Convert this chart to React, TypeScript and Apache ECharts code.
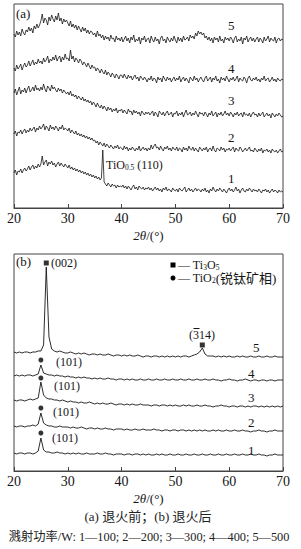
import React, { useEffect, useRef } from 'react';
import * as echarts from 'echarts';

// 2θ sampling for panel (a) (degrees, 0.25° step)
const twoThetaFine = [
  20, 20.25, 20.5, 20.75, 21, 21.25, 21.5, 21.75, 22, 22.25, 22.5, 22.75, 23, 23.25, 23.5, 23.75, 24, 24.25, 24.5, 24.75,
  25, 25.25, 25.5, 25.75, 26, 26.25, 26.5, 26.75, 27, 27.25, 27.5, 27.75, 28, 28.25, 28.5, 28.75, 29, 29.25, 29.5, 29.75,
  30, 30.25, 30.5, 30.75, 31, 31.25, 31.5, 31.75, 32, 32.25, 32.5, 32.75, 33, 33.25, 33.5, 33.75, 34, 34.25, 34.5, 34.75,
  35, 35.25, 35.5, 35.75, 36, 36.25, 36.5, 36.75, 37, 37.25, 37.5, 37.75, 38, 38.25, 38.5, 38.75, 39, 39.25, 39.5, 39.75,
  40, 40.25, 40.5, 40.75, 41, 41.25, 41.5, 41.75, 42, 42.25, 42.5, 42.75, 43, 43.25, 43.5, 43.75, 44, 44.25, 44.5, 44.75,
  45, 45.25, 45.5, 45.75, 46, 46.25, 46.5, 46.75, 47, 47.25, 47.5, 47.75, 48, 48.25, 48.5, 48.75, 49, 49.25, 49.5, 49.75,
  50, 50.25, 50.5, 50.75, 51, 51.25, 51.5, 51.75, 52, 52.25, 52.5, 52.75, 53, 53.25, 53.5, 53.75, 54, 54.25, 54.5, 54.75,
  55, 55.25, 55.5, 55.75, 56, 56.25, 56.5, 56.75, 57, 57.25, 57.5, 57.75, 58, 58.25, 58.5, 58.75, 59, 59.25, 59.5, 59.75,
  60, 60.25, 60.5, 60.75, 61, 61.25, 61.5, 61.75, 62, 62.25, 62.5, 62.75, 63, 63.25, 63.5, 63.75, 64, 64.25, 64.5, 64.75,
  65, 65.25, 65.5, 65.75, 66, 66.25, 66.5, 66.75, 67, 67.25, 67.5, 67.75, 68, 68.25, 68.5, 68.75, 69, 69.25, 69.5, 69.75,
  70,
];

// 2θ sampling for panel (b) (degrees, 0.5° step)
const twoTheta = [
  20, 20.5, 21, 21.5, 22, 22.5, 23, 23.5, 24, 24.5,
  25, 25.5, 26, 26.5, 27, 27.5, 28, 28.5, 29, 29.5,
  30, 30.5, 31, 31.5, 32, 32.5, 33, 33.5, 34, 34.5,
  35, 35.5, 36, 36.5, 37, 37.5, 38, 38.5, 39, 39.5,
  40, 40.5, 41, 41.5, 42, 42.5, 43, 43.5, 44, 44.5,
  45, 45.5, 46, 46.5, 47, 47.5, 48, 48.5, 49, 49.5,
  50, 50.5, 51, 51.5, 52, 52.5, 53, 53.5, 54, 54.5,
  55, 55.5, 56, 56.5, 57, 57.5, 58, 58.5, 59, 59.5,
  60, 60.5, 61, 61.5, 62, 62.5, 63, 63.5, 64, 64.5,
  65, 65.5, 66, 66.5, 67, 67.5, 68, 68.5, 69, 69.5,
  70,
];

// (a) before annealing — offset intensities (a.u.)
const a5 = [
  174, 171, 177, 173, 176, 172, 179, 175, 173, 178, 176, 181, 177, 180, 175, 182, 179, 184, 180, 183,
  187, 194, 185, 190, 188, 183, 191, 187, 193, 189, 186, 192, 188, 195, 187, 190, 184, 189, 186, 188,
  185, 182, 187, 181, 184, 180, 183, 178, 182, 179, 176, 181, 177, 180, 175, 178, 174, 177, 176, 173,
  175, 171, 177, 172, 174, 170, 173, 168, 172, 169, 171, 167, 173, 169, 170, 166, 172, 168, 170, 167,
  171, 166, 169, 172, 167, 170, 165, 171, 168, 173, 166, 169, 167, 171, 164, 170, 168, 172, 166, 169,
  170, 165, 172, 168, 166, 171, 167, 169, 164, 170, 172, 167, 169, 165, 171, 168, 166, 170, 167, 172,
  168, 165, 171, 167, 170, 166, 172, 168, 169, 171, 167, 173, 170, 172, 169, 175, 172, 177, 174, 176,
  173, 175, 170, 172, 168, 171, 167, 170, 165, 171, 168, 170, 166, 172, 167, 169, 165, 171, 168, 170,
  167, 171, 169, 165, 170, 172, 166, 169, 167, 171, 164, 170, 168, 172, 166, 169, 171, 167, 170, 166,
  169, 171, 166, 170, 168, 165, 171, 167, 169, 172, 166, 170, 168, 167, 171, 165, 169, 170, 167, 169,
  168,
];
const a4 = [
  140, 137, 143, 139, 141, 144, 138, 142, 145, 141, 143, 147, 142, 145, 148, 143, 146, 144, 149, 145,
  147, 144, 150, 146, 148, 152, 145, 149, 147, 151, 148, 153, 147, 150, 152, 146, 151, 148, 154, 149,
  150, 147, 158, 149, 152, 146, 150, 148, 145, 149, 147, 143, 146, 144, 141, 145, 142, 139, 143, 140,
  141, 137, 140, 138, 135, 139, 136, 134, 138, 133, 136, 134, 131, 135, 133, 130, 134, 132, 129, 133,
  133, 130, 134, 131, 129, 133, 130, 132, 128, 131, 133, 129, 131, 127, 132, 130, 128, 131, 129, 126,
  130, 128, 132, 127, 130, 129, 125, 131, 128, 130, 126, 132, 129, 127, 131, 128, 130, 126, 129, 131,
  127, 130, 128, 132, 126, 129, 131, 127, 130, 128, 125, 131, 129, 127, 132, 128, 130, 126, 129, 131,
  128, 126, 130, 132, 127, 129, 131, 126, 130, 128, 132, 127, 129, 125, 131, 128, 130, 127, 132, 129,
  126, 130, 128, 131, 127, 129, 132, 126, 130, 128, 127, 131, 129, 125, 130, 132, 128, 127, 130, 128,
  131, 127, 129, 126, 130, 128, 132, 127, 129, 130, 126, 128, 131, 127, 129, 126, 130, 128, 127, 129,
  128,
];
const a3 = [
  115, 119, 113, 117, 121, 114, 118, 116, 120, 115, 119, 122, 116, 118, 121, 117, 123, 118, 120, 117,
  121, 118, 124, 119, 116, 122, 120, 117, 123, 119, 121, 118, 116, 120, 117, 119, 115, 118, 116, 114,
  116, 113, 117, 112, 114, 111, 113, 109, 112, 110, 108, 111, 107, 109, 106, 108, 105, 107, 103, 106,
  104, 101, 105, 102, 100, 103, 99, 102, 100, 97, 101, 98, 100, 96, 99, 97, 100, 95, 98, 97,
  99, 95, 98, 96, 94, 99, 96, 97, 93, 98, 95, 97, 94, 96, 92, 97, 95, 93, 96, 94,
  96, 93, 95, 97, 92, 96, 94, 91, 97, 95, 93, 96, 92, 95, 97, 93, 94, 96, 91, 95,
  94, 97, 92, 95, 93, 96, 91, 95, 98, 93, 94, 96, 92, 95, 93, 97, 94, 91, 96, 94,
  95, 92, 96, 94, 91, 95, 93, 97, 92, 94, 96, 91, 95, 93, 96, 92, 94, 97, 93, 95,
  92, 96, 94, 91, 95, 93, 96, 92, 94, 95, 91, 96, 93, 94, 92, 95, 91, 94, 96, 93,
  94, 91, 95, 92, 94, 96, 91, 93, 95, 92, 94, 90, 95, 93, 91, 94, 92, 95, 93, 91,
  92,
];
const a2 = [
  74, 77, 72, 76, 75, 78, 74, 77, 79, 75, 78, 76, 80, 77, 79, 81, 76, 80, 78, 82,
  79, 81, 84, 78, 82, 80, 77, 83, 79, 81, 78, 82, 80, 77, 81, 79, 83, 78, 80, 79,
  77, 80, 75, 78, 76, 74, 77, 73, 75, 72, 74, 71, 73, 70, 72, 69, 71, 68, 70, 67,
  68, 65, 67, 63, 66, 64, 62, 65, 61, 64, 62, 60, 63, 61, 59, 62, 60, 63, 59, 61,
  60, 58, 62, 59, 61, 57, 60, 58, 61, 59, 57, 60, 58, 62, 57, 59, 61, 58, 60, 57,
  60, 58, 63, 59, 62, 64, 60, 61, 58, 62, 59, 57, 61, 59, 62, 58, 60, 57, 61, 59,
  58, 61, 57, 60, 59, 56, 61, 58, 60, 57, 62, 59, 58, 61, 57, 60, 58, 56, 61, 59,
  57, 60, 58, 61, 56, 59, 60, 57, 62, 58, 56, 60, 59, 57, 61, 58, 60, 56, 59, 58,
  60, 57, 59, 61, 56, 60, 58, 57, 61, 59, 56, 58, 60, 57, 59, 61, 57, 58, 56, 60,
  58, 56, 59, 57, 60, 55, 58, 57, 59, 56, 58, 55, 59, 57, 56, 58, 55, 57, 59, 56,
  57,
];
const a1 = [
  35, 38, 33, 37, 36, 39, 35, 38, 40, 37, 39, 42, 38, 41, 43, 39, 42, 40, 44, 41,
  44, 52, 43, 46, 48, 42, 46, 44, 47, 43, 45, 41, 44, 46, 42, 45, 43, 41, 44, 42,
  40, 43, 39, 41, 38, 40, 37, 39, 36, 38, 35, 37, 34, 36, 33, 35, 32, 34, 31, 33,
  30, 32, 29, 31, 28, 30, 58, 26, 24, 22, 25, 23, 21, 24, 22, 23, 20, 23, 21, 22,
  21, 23, 20, 22, 19, 22, 20, 18, 21, 23, 19, 21, 18, 22, 20, 19, 21, 18, 20, 19,
  21, 18, 20, 17, 19, 21, 18, 20, 17, 19, 16, 20, 18, 21, 17, 19, 18, 16, 20, 18,
  17, 19, 16, 20, 18, 17, 19, 21, 16, 18, 20, 17, 19, 16, 18, 20, 17, 19, 18, 16,
  19, 17, 20, 16, 18, 15, 19, 17, 21, 18, 16, 19, 17, 20, 18, 16, 19, 17, 15, 18,
  20, 17, 19, 16, 18, 21, 17, 19, 15, 18, 20, 17, 16, 19, 17, 20, 18, 16, 19, 17,
  18, 16, 19, 17, 15, 18, 17, 19, 16, 18, 15, 17, 19, 16, 18, 17, 15, 18, 16, 17,
  16,
];

// (b) after annealing — offset intensities (a.u.)
const b5 = [
  119, 118, 119, 118, 119, 119, 118, 119, 119, 120,
  120, 126, 204, 134, 122, 120, 119, 120, 119, 118,
  118, 119, 118, 117, 118, 117, 118, 117, 116, 117,
  117, 116, 117, 116, 116, 117, 116, 115, 116, 116,
  115, 116, 115, 116, 115, 115, 116, 115, 114, 115,
  115, 114, 115, 115, 114, 115, 114, 115, 114, 115,
  114, 115, 114, 115, 115, 114, 115, 116, 117, 119,
  123, 117, 115, 115, 115, 114, 115, 114, 115, 114,
  115, 114, 114, 115, 114, 115, 114, 114, 115, 114,
  114, 115, 114, 114, 115, 114, 114, 115, 114, 114,
  114,
];
const b4 = [
  95, 96, 95, 96, 95, 96, 96, 95, 96, 97,
  106, 98, 97, 96, 96, 95, 96, 95, 95, 94,
  95, 94, 94, 93, 94, 93, 94, 93, 93, 92,
  93, 92, 93, 92, 92, 93, 92, 92, 91, 92,
  92, 91, 92, 91, 92, 91, 91, 92, 91, 91,
  92, 91, 91, 92, 91, 91, 92, 91, 91, 92,
  91, 91, 92, 91, 91, 92, 91, 91, 92, 91,
  91, 92, 91, 91, 92, 91, 91, 90, 91, 91,
  92, 91, 91, 90, 91, 91, 92, 91, 90, 91,
  91, 90, 91, 91, 90, 91, 91, 90, 91, 91,
  91,
];
const b3 = [
  71, 70, 71, 71, 70, 71, 72, 71, 72, 73,
  89, 76, 73, 72, 72, 71, 71, 70, 71, 70,
  69, 70, 69, 69, 68, 69, 68, 68, 69, 68,
  67, 68, 67, 68, 67, 67, 68, 67, 66, 67,
  67, 66, 67, 66, 67, 66, 66, 67, 66, 66,
  66, 65, 66, 66, 65, 66, 66, 65, 66, 65,
  66, 65, 65, 66, 65, 66, 65, 65, 66, 65,
  65, 66, 65, 65, 64, 65, 65, 66, 65, 65,
  64, 65, 65, 64, 65, 65, 64, 65, 64, 65,
  65, 64, 65, 64, 65, 64, 65, 64, 65, 64,
  65,
];
const b2 = [
  45, 44, 45, 45, 44, 45, 45, 46, 45, 47,
  58, 48, 46, 45, 45, 44, 44, 45, 44, 44,
  44, 43, 44, 43, 43, 44, 43, 42, 43, 43,
  42, 43, 42, 42, 43, 42, 42, 41, 42, 42,
  42, 41, 42, 41, 41, 42, 41, 41, 42, 41,
  41, 41, 42, 41, 41, 40, 41, 41, 40, 41,
  41, 40, 41, 41, 40, 41, 40, 41, 40, 41,
  40, 41, 40, 40, 41, 40, 41, 40, 40, 41,
  40, 40, 41, 40, 40, 41, 40, 40, 39, 40,
  40, 41, 40, 40, 39, 40, 40, 41, 40, 40,
  40,
];
const b1 = [
  18, 17, 18, 18, 17, 18, 18, 17, 18, 20,
  33, 21, 19, 19, 18, 18, 19, 18, 18, 17,
  18, 17, 18, 17, 18, 17, 17, 18, 17, 17,
  17, 18, 17, 17, 18, 17, 17, 16, 17, 17,
  17, 16, 17, 17, 16, 17, 17, 16, 17, 16,
  17, 16, 16, 17, 16, 17, 16, 16, 17, 16,
  16, 17, 16, 16, 17, 16, 16, 17, 16, 16,
  17, 16, 16, 17, 16, 16, 17, 16, 16, 17,
  16, 16, 17, 16, 16, 17, 16, 16, 17, 16,
  16, 17, 16, 16, 15, 16, 16, 17, 16, 16,
  16,
];

// peak markers in panel (b)
const ti3o5Peaks = [[26.0, 208], [55.0, 126]];
const anatasePeaks = [[25.0, 111], [25.0, 93], [25.0, 63], [25.0, 38]];

const SERIF = "'Liberation Serif', 'Times New Roman', 'Noto Sans CJK SC', serif";
const INK = '#151515';

const pair = (xs: number[], ys: number[]) => xs.map((x, i) => [x, ys[i]]);

const txt = (text: string, x: number, y: number, size = 12, extra: any = {}) => ({
  type: 'text',
  x,
  y,
  silent: true,
  style: {
    text,
    fontSize: size,
    fontFamily: SERIF,
    fill: INK,
    align: 'left',
    verticalAlign: 'middle',
    ...extra,
  },
});

// rich text with subscripts: main tokens centred, sub tokens pushed to the bottom of a 12px line box
const subRich = () => ({
  m: { fontSize: 12, fontFamily: SERIF, fill: INK, lineHeight: 12, verticalAlign: 'middle' },
  c: { fontSize: 13, fontFamily: SERIF, fill: INK, lineHeight: 12, verticalAlign: 'middle' },
  s: { fontSize: 7.5, fontFamily: SERIF, fill: INK, lineHeight: 5, verticalAlign: 'bottom' },
});

export default function App() {
  const ref = useRef<HTMLDivElement>(null);
  useEffect(() => {
    if (!ref.current) return;
    const chart = echarts.init(ref.current, null, { renderer: 'svg' });
    const xAxisBase = (gridIndex: number) => ({
      type: 'value',
      gridIndex,
      min: 20,
      max: 70,
      interval: 10,
      axisLine: { show: true, lineStyle: { color: '#444', width: 1 } },
      axisTick: { show: true, inside: true, length: 4, lineStyle: { color: '#444' } },
      axisLabel: { color: INK, fontSize: 14, fontFamily: SERIF, margin: 3 },
      splitLine: { show: false },
      name: '{i|2θ}{n|/(°)}',
      nameLocation: 'middle',
      nameGap: 21,
      nameTextStyle: {
        rich: {
          i: { fontStyle: 'italic', fontSize: 13, fontFamily: SERIF, color: INK },
          n: { fontSize: 13, fontFamily: SERIF, color: INK },
        },
      },
    });
    const lineSeries = (xs: number[], data: number[], idx: number, width: number) => ({
      type: 'line',
      xAxisIndex: idx,
      yAxisIndex: idx,
      data: pair(xs, data),
      showSymbol: false,
      symbol: 'none',
      lineStyle: { color: INK, width },
      silent: true,
    });
    const option: any = {
      animation: false,
      grid: [
        { left: 14, right: 18, top: 4, height: 204, show: true, borderColor: '#444', borderWidth: 1 },
        { left: 14, right: 18, top: 254, height: 217, show: true, borderColor: '#444', borderWidth: 1 },
      ],
      xAxis: [xAxisBase(0), xAxisBase(1)],
      yAxis: [
        { type: 'value', gridIndex: 0, min: 0, max: 204, show: false },
        { type: 'value', gridIndex: 1, min: 0, max: 217, show: false },
      ],
      series: [
        lineSeries(twoThetaFine, a1, 0, 0.8),
        lineSeries(twoThetaFine, a2, 0, 0.8),
        lineSeries(twoThetaFine, a3, 0, 0.8),
        lineSeries(twoThetaFine, a4, 0, 0.8),
        lineSeries(twoThetaFine, a5, 0, 0.8),
        lineSeries(twoTheta, b1, 1, 0.9),
        lineSeries(twoTheta, b2, 1, 0.9),
        lineSeries(twoTheta, b3, 1, 0.9),
        lineSeries(twoTheta, b4, 1, 0.9),
        lineSeries(twoTheta, b5, 1, 0.9),
        {
          type: 'scatter',
          xAxisIndex: 1,
          yAxisIndex: 1,
          data: ti3o5Peaks,
          symbol: 'rect',
          symbolSize: 5,
          itemStyle: { color: '#000' },
          silent: true,
        },
        {
          type: 'scatter',
          xAxisIndex: 1,
          yAxisIndex: 1,
          data: anatasePeaks,
          symbol: 'circle',
          symbolSize: 5,
          itemStyle: { color: '#000' },
          silent: true,
        },
      ],
      graphic: [
        // panel (a)
        txt('(a)', 16, 13, 13),
        txt('5', 228, 25, 13),
        txt('4', 228, 68, 13),
        txt('3', 228, 100, 13),
        txt('2', 228, 137, 13),
        txt('1', 228, 178, 13),
        txt('{m|TiO}{s|0.5}{m| (110)}', 106, 165, 12, { rich: subRich() }),
        // panel (b)
        txt('(b)', 16, 261, 13),
        txt('(002)', 51, 263, 12),
        txt('(314)', 189, 335, 12),
        { type: 'line', silent: true, shape: { x1: 193.5, y1: 328.5, x2: 199.5, y2: 328.5 }, style: { stroke: INK, lineWidth: 1 } },
        txt('5', 253, 347, 13),
        txt('4', 248, 373, 13),
        txt('3', 248, 397, 13),
        txt('2', 248, 422, 13),
        txt('1', 248, 450, 13),
        txt('(101)', 56, 362, 12),
        txt('(101)', 54, 386, 12),
        txt('(101)', 53, 412, 12),
        txt('(101)', 52, 438, 12),
        // legend
        { type: 'rect', silent: true, shape: { x: 170.5, y: 262.5, width: 5, height: 5 }, style: { fill: '#000' } },
        txt('{m|— Ti}{s|3}{m|O}{s|5}', 178, 265, 12, { rich: subRich() }),
        { type: 'circle', silent: true, shape: { cx: 173, cy: 278, r: 2.5 }, style: { fill: '#000' } },
        txt('{m|— TiO}{s|2}{c|(锐钛矿相)}', 178, 278, 12, { rich: subRich() }),
        // captions
        txt('(a) 退火前；(b) 退火后', 148, 516, 13, { align: 'center', fill: '#222' }),
        txt('溅射功率/W: 1—100; 2—200; 3—300; 4—400; 5—500', 149, 537, 12.3, { align: 'center', fill: '#222' }),
      ],
    };
    chart.setOption(option);
    return () => chart.dispose();
  }, []);
  return (
    <div
      ref={ref}
      style={{ position: 'absolute', left: 0, top: 0, width: 301, height: 549, background: '#fff' }}
    />
  );
}
